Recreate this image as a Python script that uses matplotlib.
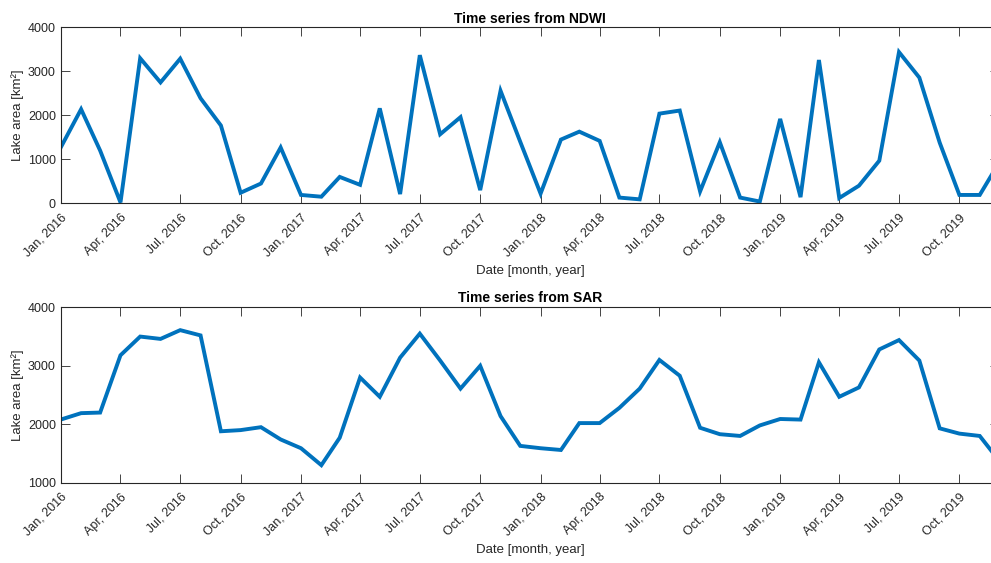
import matplotlib

matplotlib.use("Agg")

import matplotlib.pyplot as plt
import matplotlib.dates as mdates
import numpy as np

BLUE = "#0072BD"
AXIS_GREY = "#262626"

plt.rcParams.update(
    {
        "font.family": ["Liberation Sans", "DejaVu Sans"],
        "font.size": 9,
        "axes.edgecolor": AXIS_GREY,
        "axes.labelcolor": AXIS_GREY,
        "xtick.color": AXIS_GREY,
        "ytick.color": AXIS_GREY,
        "text.color": AXIS_GREY,
        "axes.linewidth": 0.8,
    }
)

# monthly acquisitions, Jan 2016 .. Dec 2019
months = np.arange("2016-01", "2020-01", dtype="datetime64[M]").astype("datetime64[D]")

ndwi_area = [
    1270, 2140, 1200, 20, 3300, 2750, 3290, 2390, 1770, 240, 450, 1270,
    190, 150, 600, 420, 2160, 210, 3370, 1570, 1960, 300, 2560, 1400,
    220, 1450, 1630, 1420, 130, 90, 2040, 2110, 270, 1390, 130, 40,
    1920, 140, 3260, 120, 400, 970, 3440, 2860, 1380, 190, 190, 940,
]

sar_area = [
    2080, 2190, 2200, 3180, 3500, 3460, 3610, 3520, 1880, 1900, 1950, 1740,
    1590, 1300, 1770, 2800, 2470, 3140, 3550, 3090, 2610, 3000, 2140, 1630,
    1590, 1560, 2020, 2020, 2280, 2610, 3100, 2830, 1940, 1830, 1800, 1980,
    2090, 2080, 3060, 2470, 2630, 3280, 3440, 3090, 1930, 1840, 1800, 1370,
]

panels = [
    ("Time series from NDWI", ndwi_area, (0, 4000), [0, 1000, 2000, 3000, 4000]),
    ("Time series from SAR", sar_area, (1000, 4000), [1000, 2000, 3000, 4000]),
]

fig = plt.figure(figsize=(9.91, 5.63), dpi=100)
# the right edge runs slightly past the canvas, so the right spine is clipped
positions = [
    [0.0613, 0.6389, 0.9472, 0.3123],
    [0.0613, 0.1426, 0.9472, 0.3115],
]

for pos, (title, values, ylim, yticks) in zip(positions, panels):
    ax = fig.add_axes(pos)
    ax.plot(months, values, color=BLUE, linewidth=2.8, solid_joinstyle="miter")
    ax.set_xlim(months[0], months[-1])
    ax.set_ylim(*ylim)
    ax.set_yticks(yticks)
    ax.xaxis.set_major_locator(mdates.MonthLocator(bymonth=[1, 4, 7, 10]))
    ax.xaxis.set_major_formatter(mdates.DateFormatter("%b, %Y"))
    ax.tick_params(direction="in", length=6.5, width=0.6, top=True, right=True, labelsize=9)
    ax.tick_params(axis="x", pad=6)
    for lab in ax.get_xticklabels():
        lab.set_rotation(45)
        lab.set_ha("right")
        lab.set_va("top")
        lab.set_rotation_mode("anchor")
    ax.set_title(title, fontsize=10, fontweight="bold", color="black", pad=3.5)
    ax.set_xlabel("Date [month, year]", fontsize=9.5, labelpad=4)
    ax.set_ylabel("Lake area [km²]", fontsize=9.5)
    ax.yaxis.set_label_coords(-0.039, 0.5)

fig.savefig("out.png", dpi=100, facecolor="white")
